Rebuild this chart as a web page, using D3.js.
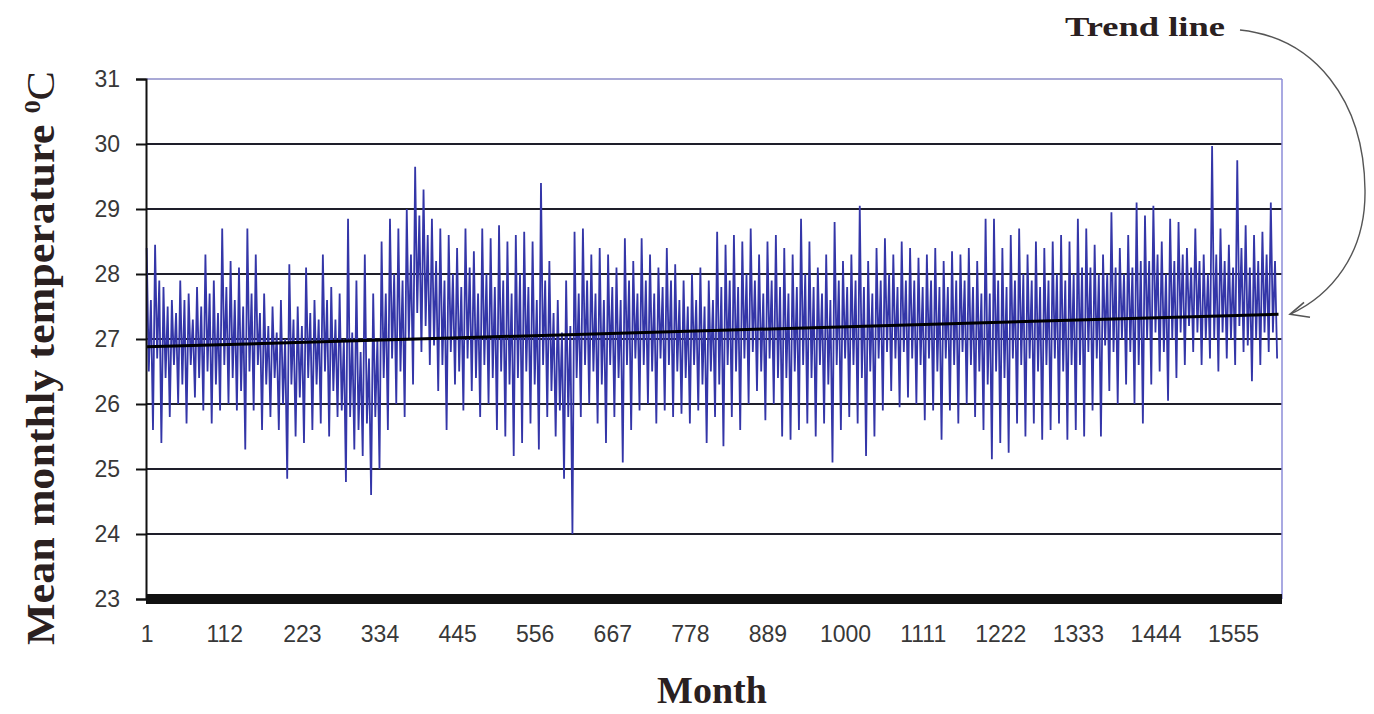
<!DOCTYPE html>
<html>
<head>
<meta charset="utf-8">
<script src="https://cdn.jsdelivr.net/npm/d3@7/dist/d3.min.js"></script>
<style>
    body { margin: 0; background: #fff; }
    .axis .tick text { font-family: "Liberation Sans", Arial, sans-serif; font-size: 23px; fill: #383838; }
    .axis-title { font-family: "Liberation Serif", "Times New Roman", serif; font-weight: bold; fill: #2a2020; }
</style>
</head>
<body>
<div id="chart-area"></div>
<script>

// Tick labels
let monthTicks = [1, 112, 223, 334, 445, 556, 667, 778, 889, 1000, 1111, 1222, 1333, 1444, 1555];
let tempTicks = [23, 24, 25, 26, 27, 28, 29, 30, 31];

// Mean monthly temperature, every 3rd month (4 per year, 135 years)
let tempQuarterly = [
    28.4, 26.5, 27.6, 25.6,  28.45, 26.7, 27.9, 25.4,  27.8, 26.4, 27.5, 25.8,  27.6, 26.6, 27.4, 26.0,  27.9, 26.3, 27.6, 25.7,
    27.7, 26.6, 27.3, 26.1,  27.8, 26.4, 27.5, 25.9,  28.3, 26.5, 27.7, 25.7,  27.9, 26.3, 27.4, 25.9,  28.7, 26.6, 27.8, 26.0,
    28.2, 26.4, 27.6, 25.9,  28.1, 26.2, 27.5, 25.3,  28.7, 26.5, 27.7, 25.9,  28.3, 26.6, 27.4, 25.6,  27.7, 26.3, 27.2, 25.8,
    27.5, 26.4, 27.1, 25.6,  27.6, 26.0, 27.0, 24.85, 28.15, 26.3, 27.3, 25.5, 27.5, 26.1, 27.2, 25.4,  28.1, 26.4, 27.4, 25.6,
    27.6, 26.3, 27.3, 25.7,  28.3, 26.5, 27.6, 25.5,  27.8, 26.2, 27.3, 25.8,  27.7, 25.9, 27.0, 24.8,  28.85, 25.8, 27.1, 25.3,
    27.9, 25.6, 26.8, 25.2,  28.3, 25.7, 26.7, 24.6,  27.7, 25.8, 27.0, 25.0,  28.5, 26.4, 27.7, 25.6,  28.85, 26.7, 28.0, 26.0,
    28.7, 26.5, 27.9, 25.8,  29.0, 27.0, 28.3, 26.3,  29.65, 27.4, 28.9, 26.8, 29.3, 27.2, 28.6, 26.6,  28.85, 26.9, 28.2, 26.2,
    28.7, 26.6, 27.9, 25.6,  28.6, 26.8, 28.0, 26.3,  28.4, 26.5, 27.8, 25.9,  28.7, 26.7, 28.1, 26.2,  28.35, 26.4, 27.7, 25.8,
    28.7, 26.6, 28.0, 26.0,  28.55, 26.4, 27.8, 25.6, 28.75, 26.5, 27.9, 25.5, 28.5, 26.3, 27.7, 25.2,  28.6, 26.4, 28.0, 25.4,
    28.65, 26.5, 27.8, 25.7, 28.5, 26.3, 27.6, 25.3,  29.4, 26.6, 27.9, 25.8,  28.2, 26.2, 27.4, 25.5,  27.6, 25.9, 27.1, 24.85,
    27.9, 25.8, 27.2, 24.0,  28.65, 26.4, 27.7, 25.8, 28.7, 26.6, 27.9, 26.0,  28.3, 26.5, 27.7, 25.7,  28.4, 26.3, 27.6, 25.4,
    28.3, 26.6, 27.8, 25.8,  28.1, 26.4, 27.6, 25.1,  28.55, 26.6, 27.9, 25.6, 28.2, 26.7, 27.7, 25.9,  28.55, 26.6, 27.9, 26.0,
    28.3, 26.5, 27.7, 25.7,  28.1, 26.7, 27.8, 25.9,  28.4, 26.6, 27.9, 25.8,  28.15, 26.5, 27.6, 25.85, 27.9, 26.4, 27.5, 25.7,
    28.0, 26.6, 27.6, 25.9,  28.1, 26.3, 27.5, 25.4,  27.9, 26.5, 27.6, 25.8,  28.65, 26.3, 27.8, 25.35, 28.45, 26.6, 27.9, 25.8,
    28.6, 26.5, 27.8, 25.6,  28.5, 26.7, 28.0, 26.0,  28.7, 26.8, 27.9, 26.2,  28.3, 26.5, 27.7, 25.75, 28.5, 26.7, 27.9, 26.0,
    28.6, 26.4, 27.8, 25.5,  28.4, 26.4, 27.7, 25.45, 28.3, 26.5, 27.8, 25.6,  28.85, 26.6, 28.0, 25.7, 28.5, 26.4, 27.8, 25.5,
    28.1, 26.6, 27.7, 25.7,  28.3, 26.3, 27.6, 25.1,  28.8, 26.6, 27.9, 25.6,  28.2, 26.7, 27.8, 25.8,  28.3, 26.6, 27.9, 25.7,
    29.05, 26.4, 27.8, 25.2, 28.2, 26.5, 27.7, 25.5,  28.4, 26.7, 27.9, 25.9,  28.55, 26.8, 28.0, 26.2, 28.3, 26.7, 27.8, 25.95,
    28.5, 26.8, 27.9, 26.1,  28.4, 26.7, 27.9, 26.0,  28.25, 26.6, 27.8, 25.75, 28.3, 26.7, 27.9, 25.9, 28.4, 26.5, 27.8, 25.45,
    28.2, 26.7, 27.8, 25.9,  28.35, 26.6, 27.9, 25.7, 28.3, 26.8, 27.9, 26.0,  28.4, 26.6, 27.8, 25.8,  28.2, 26.5, 27.7, 25.6,
    28.85, 26.3, 27.7, 25.15, 28.85, 26.5, 27.9, 25.4, 28.4, 26.4, 27.8, 25.25, 28.6, 26.7, 27.9, 25.7, 28.7, 26.6, 28.0, 25.5,
    28.3, 26.7, 27.9, 25.7,  28.5, 26.5, 27.8, 25.45, 28.4, 26.6, 27.9, 25.6,  28.5, 26.7, 28.0, 25.7,  28.6, 26.5, 27.9, 25.45,
    28.5, 26.6, 28.0, 25.6,  28.85, 26.6, 28.1, 25.5, 28.7, 26.8, 28.1, 25.9,  28.45, 26.7, 28.0, 25.5, 28.3, 26.9, 28.0, 26.2,
    28.95, 26.8, 28.1, 26.0, 28.4, 27.0, 28.0, 26.3,  28.6, 26.8, 28.1, 26.0,  29.1, 26.6, 28.2, 25.7,  28.9, 27.0, 28.2, 26.3,
    29.05, 27.1, 28.3, 26.5, 28.5, 26.8, 28.0, 26.05, 28.85, 27.0, 28.2, 26.4, 28.8, 27.1, 28.3, 26.6,  28.4, 27.2, 28.1, 26.8,
    28.7, 27.1, 28.2, 26.6,  28.3, 27.0, 28.0, 26.7,  29.97, 27.0, 28.3, 26.5, 28.7, 27.1, 28.2, 26.7,  28.45, 27.0, 28.1, 26.6,
    29.75, 27.2, 28.4, 26.8, 28.75, 26.9, 28.1, 26.35, 28.6, 27.0, 28.2, 26.6, 28.65, 27.1, 28.3, 26.8, 29.1, 27.1, 28.2, 26.7
];

// Linear trend line, value at first and last month
let trendMonths = [1, 1620];
let trendValues = [26.88, 27.38];

// Chart area
let margin = {top: 79, left: 146},
    width = 1136,
    height = 520;

let svg = d3.select("#chart-area").append("svg")
    .attr("width", 1374)
    .attr("height", 714);

let g = svg.append("g")
    .attr("transform", "translate(" + margin.left + "," + margin.top + ")");

// Scales
let x = d3.scaleLinear()
    .domain([0, 1625])
    .range([0, width]);

let y = d3.scaleLinear()
    .domain([23, 31])
    .range([height, 0]);

let data = tempQuarterly.map((v, i) => ({month: i * 3 + 1, value: v}));

// Gridlines
g.selectAll(".grid")
    .data(tempTicks.filter(d => d > 23 && d < 31))
    .enter()
    .append("line")
    .attr("class", "grid")
    .attr("x1", 0)
    .attr("x2", width)
    .attr("y1", d => y(d))
    .attr("y2", d => y(d))
    .attr("stroke", "#1e1e2a")
    .attr("stroke-width", 2);

// Temperature series
let line = d3.line()
    .x(d => x(d.month))
    .y(d => y(d.value));

g.append("path")
    .datum(data)
    .attr("fill", "none")
    .attr("stroke", "#3436a8")
    .attr("stroke-width", 1.8)
    .attr("stroke-linejoin", "miter")
    .attr("d", line);

// Trend line
let trend = trendMonths.map((m, i) => ({month: m, value: trendValues[i]}));

g.append("path")
    .datum(trend)
    .attr("fill", "none")
    .attr("stroke", "#000")
    .attr("stroke-width", 3)
    .attr("d", line);

// Plot area border (top and right)
g.append("line")
    .attr("x1", 0).attr("x2", width)
    .attr("y1", y(31)).attr("y2", y(31))
    .attr("stroke", "#8c8cc8")
    .attr("stroke-width", 1.5);

g.append("line")
    .attr("x1", width).attr("x2", width)
    .attr("y1", y(31)).attr("y2", y(23))
    .attr("stroke", "#8c8cd8")
    .attr("stroke-width", 1.5);

// Axes
let yAxis = d3.axisLeft(y)
    .tickValues(tempTicks)
    .tickSize(10)
    .tickPadding(16);

let yAxisGroup = g.append("g")
    .attr("class", "y-axis axis")
    .call(yAxis);

yAxisGroup.selectAll("path, line")
    .attr("stroke", "#111")
    .attr("stroke-width", 2);

let xAxis = d3.axisBottom(x)
    .tickValues(monthTicks)
    .tickFormat(d3.format("d"))
    .tickSize(0)
    .tickPadding(27);

let xAxisGroup = g.append("g")
    .attr("class", "x-axis axis")
    .attr("transform", "translate(0," + height + ")")
    .call(xAxis);

xAxisGroup.select(".domain").remove();

// Thick category axis line
g.append("line")
    .attr("x1", 0).attr("x2", width)
    .attr("y1", y(23)).attr("y2", y(23))
    .attr("stroke", "#111")
    .attr("stroke-width", 10);

// Axis titles
svg.append("text")
    .attr("class", "axis-title")
    .attr("x", 712)
    .attr("y", 703)
    .attr("text-anchor", "middle")
    .style("font-size", "38px")
    .text("Month");

let yTitle = svg.append("text")
    .attr("class", "axis-title")
    .attr("transform", "translate(54,358) rotate(-90)")
    .attr("text-anchor", "middle")
    .attr("textLength", 574)
    .attr("lengthAdjust", "spacingAndGlyphs")
    .style("font-size", "40px");

yTitle.append("tspan").text("Mean monthly temperature ");
yTitle.append("tspan").attr("dy", -14).style("font-size", "24px").text("0");
yTitle.append("tspan").attr("dy", 14).style("font-weight", "normal").text("C");

// Trend line annotation
svg.append("text")
    .attr("class", "axis-title")
    .attr("x", 1145)
    .attr("y", 36)
    .attr("text-anchor", "middle")
    .attr("textLength", 160)
    .attr("lengthAdjust", "spacingAndGlyphs")
    .style("font-size", "27px")
    .text("Trend line");

let tipX = margin.left + width + 8,
    tipY = margin.top + y(trendValues[1]);

svg.append("path")
    .attr("fill", "none")
    .attr("stroke", "#555")
    .attr("stroke-width", 1.4)
    .attr("d", "M1240,30 C1315,38 1364,100 1365,190 C1366,255 1330,296 " + tipX + "," + tipY);

svg.append("path")
    .attr("fill", "none")
    .attr("stroke", "#555")
    .attr("stroke-width", 1.6)
    .attr("d", "M" + (tipX + 14) + "," + (tipY - 12) + " L" + tipX + "," + tipY + " L" + (tipX + 20) + "," + (tipY + 3));

</script>
</body>
</html>
